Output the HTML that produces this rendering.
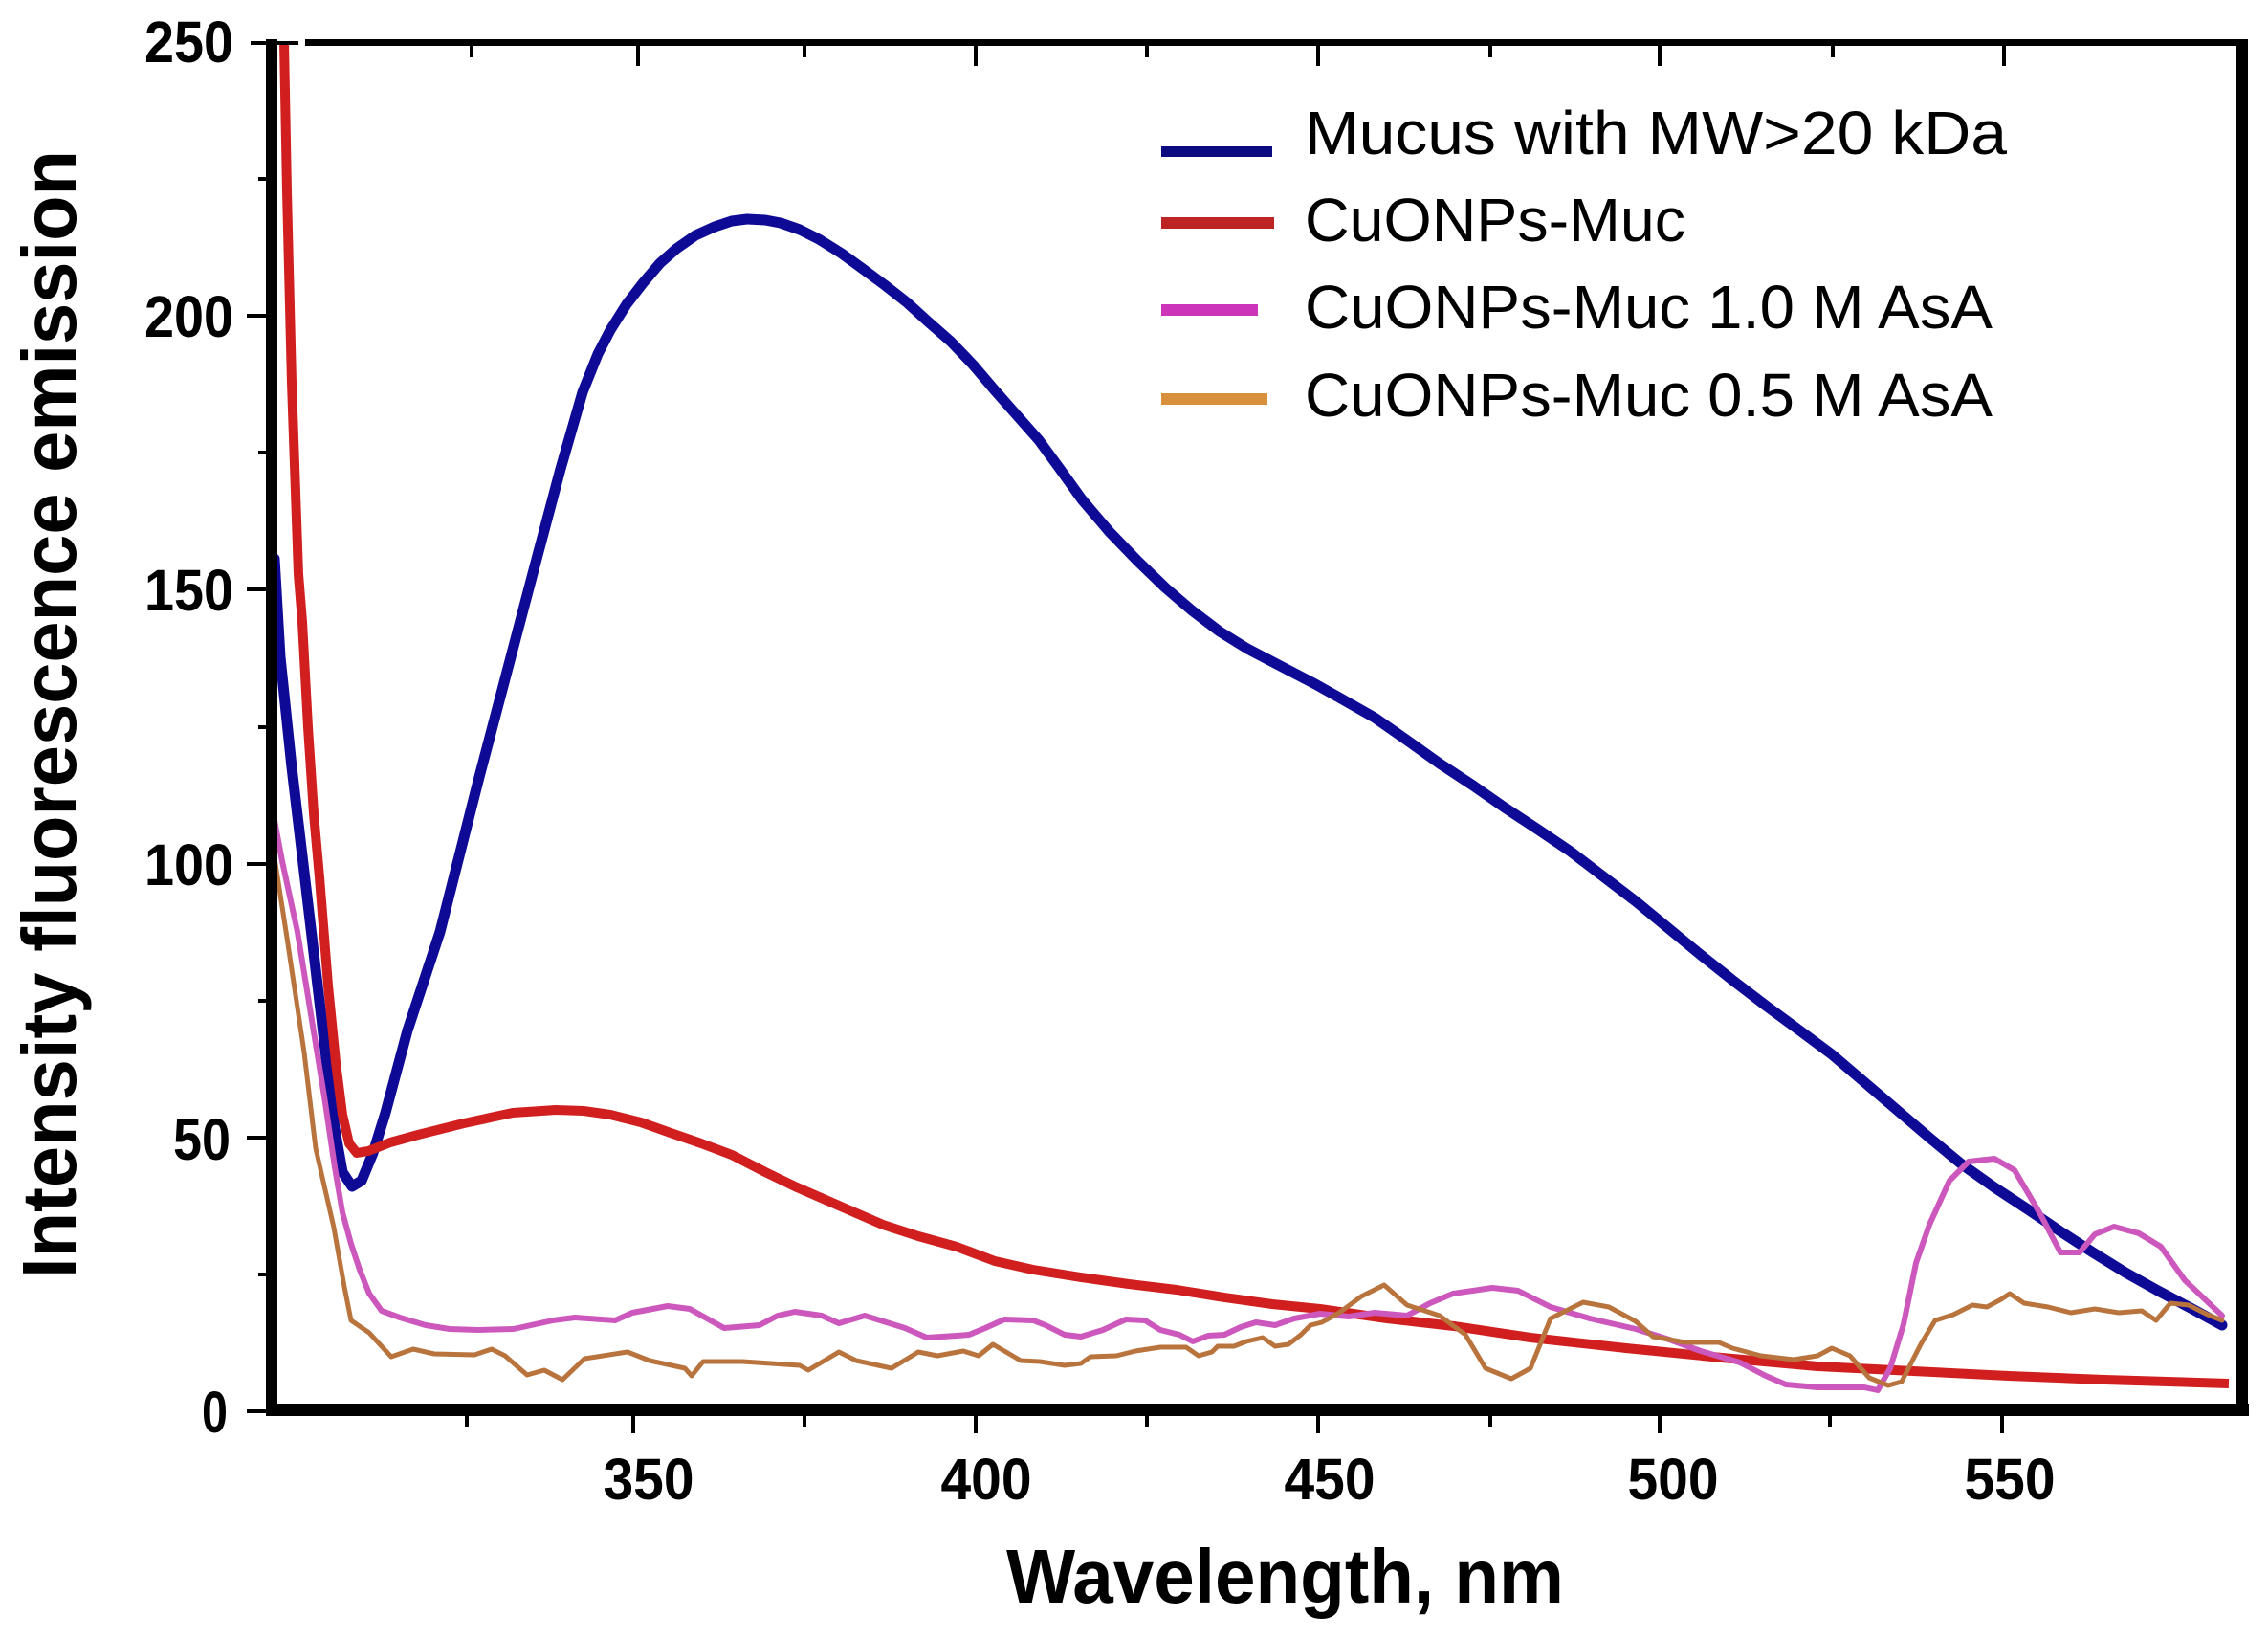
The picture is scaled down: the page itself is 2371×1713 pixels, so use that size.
<!DOCTYPE html>
<html>
<head>
<meta charset="utf-8">
<style>
html,body{margin:0;padding:0;background:#fff;}
svg{display:block;}
.tl{font-family:"Liberation Sans",Arial,sans-serif;font-weight:bold;font-size:61px;fill:#000;}
.lg{font-family:"Liberation Sans",Arial,sans-serif;font-size:64px;fill:#000;}
.ax{font-family:"Liberation Sans",Arial,sans-serif;font-weight:bold;font-size:80px;fill:#000;}
</style>
</head>
<body>
<svg width="2371" height="1713" viewBox="0 0 2371 1713" xmlns="http://www.w3.org/2000/svg">
<rect x="0" y="0" width="2371" height="1713" fill="#fff"/>

<!-- curves -->
<polyline fill="none" stroke="#0e0a96" stroke-width="11" stroke-linejoin="round" stroke-linecap="round"
points="287,584 293,687 305,802 322,945 339,1089 350,1180 358,1225 368,1240 378,1234 390,1205 403,1163 426,1077 460,974 500,816 530,702 560,588 586,490 609,410 625,370 638,345 655,318 672,296 690,275 707,260 727,246 747,237 765,231 781,229 800,230 816,233 836,240 856,250 880,265 902,281 925,298 948,316 970,336 994,357 1017,381 1040,408 1063,434 1086,460 1108,490 1131,522 1160,556 1189,586 1218,614 1246,638 1275,660 1304,678 1327,690 1350,702 1375,715 1400,729 1437,750 1470,773 1505,798 1540,821 1573,844 1608,867 1642,890 1676,916 1710,942 1744,970 1778,998 1812,1025 1846,1051 1880,1076 1915,1102 1949,1131 1983,1160 2017,1189 2051,1217 2085,1241 2120,1264 2154,1287 2188,1309 2222,1330 2256,1349 2290,1367 2323,1385"/>

<polyline fill="none" stroke="#d11f1f" stroke-width="10" stroke-linejoin="round" stroke-linecap="butt"
points="297,44 300,200 305,400 312,600 316,650 322,760 328,850 334,917 343,1030 351,1110 358,1165 365,1195 373,1205 385,1203 408,1194 437,1186 485,1174 536,1163 581,1160 610,1161 638,1165 670,1173 701,1184 733,1195 765,1207 800,1225 831,1240 870,1257 923,1280 960,1292 1000,1303 1040,1318 1080,1327 1130,1335 1180,1342 1230,1348 1280,1356 1330,1363 1380,1368 1450,1378 1520,1386 1600,1398 1700,1409 1800,1419 1900,1428 2000,1433 2100,1438 2200,1442 2330,1446"/>

<polyline fill="none" stroke="#cd58bd" stroke-width="6" stroke-linejoin="round" stroke-linecap="round"
points="283,836 295,900 311,974 325,1060 339,1146 350,1220 358,1267 367,1300 376,1327 386,1352 399,1370 418,1377 445,1385 470,1389 500,1390 537,1389 578,1380 601,1377 643,1380 661,1372 698,1365 721,1368 757,1388 794,1385 813,1375 831,1371 859,1375 877,1383 904,1375 946,1388 969,1398 1000,1396 1013,1395 1030,1388 1050,1379 1080,1380 1093,1385 1113,1395 1130,1397 1153,1390 1177,1379 1197,1380 1213,1390 1233,1395 1247,1402 1263,1396 1280,1395 1297,1387 1313,1382 1333,1385 1353,1378 1380,1373 1410,1376 1437,1372 1471,1375 1495,1362 1519,1352 1560,1346 1587,1349 1621,1366 1662,1378 1710,1389 1745,1400 1778,1412 1819,1424 1846,1438 1867,1447 1900,1450 1949,1450 1963,1453 1976,1430 1990,1384 2003,1320 2017,1280 2038,1234 2058,1214 2085,1211 2106,1223 2133,1269 2154,1309 2174,1309 2190,1290 2210,1282 2236,1289 2259,1303 2284,1338 2323,1375"/>

<polyline fill="none" stroke="#b9743e" stroke-width="5" stroke-linejoin="round" stroke-linecap="round"
points="283,871 300,980 318,1100 330,1200 349,1283 360,1345 367,1380 386,1393 409,1418 432,1410 454,1415 496,1416 514,1410 528,1417 551,1437 569,1432 588,1442 611,1420 656,1413 679,1422 716,1430 723,1438 735,1423 776,1423 836,1427 845,1432 877,1413 895,1422 932,1430 960,1413 980,1417 1007,1412 1023,1417 1038,1405 1050,1412 1067,1422 1087,1423 1113,1427 1130,1425 1140,1418 1167,1417 1187,1412 1213,1408 1240,1408 1253,1417 1267,1413 1273,1407 1290,1407 1303,1402 1320,1398 1333,1407 1347,1405 1360,1395 1370,1385 1382,1382 1400,1372 1423,1355 1447,1343 1471,1364 1505,1375 1532,1395 1553,1430 1580,1441 1600,1430 1621,1378 1655,1361 1682,1366 1710,1381 1728,1397 1762,1403 1797,1403 1811,1409 1841,1417 1875,1421 1900,1417 1915,1409 1934,1417 1954,1440 1974,1448 1988,1444 2008,1405 2023,1380 2042,1374 2062,1364 2077,1366 2092,1358 2101,1352 2116,1362 2141,1366 2165,1372 2190,1368 2215,1372 2239,1370 2254,1380 2269,1362 2288,1364 2308,1374 2323,1380"/>

<!-- axes frame -->
<rect x="278" y="41" width="12" height="1439" fill="#000"/>
<rect x="278" y="1467" width="2073" height="13" fill="#000"/>
<rect x="2338" y="41" width="12" height="1439" fill="#000"/>
<rect x="319" y="41" width="2031" height="7" fill="#000"/>
<rect x="262" y="43" width="50" height="4" fill="#000"/>

<!-- y ticks -->
<g fill="#000">
<rect x="258" y="328" width="22" height="4"/>
<rect x="258" y="614" width="22" height="4"/>
<rect x="258" y="901" width="22" height="4"/>
<rect x="258" y="1187" width="22" height="4"/>
<rect x="258" y="1473" width="22" height="4"/>
<rect x="270" y="185" width="10" height="4"/>
<rect x="270" y="471" width="10" height="4"/>
<rect x="270" y="758" width="10" height="4"/>
<rect x="270" y="1044" width="10" height="4"/>
<rect x="270" y="1330" width="10" height="4"/>
</g>

<!-- x ticks bottom -->
<g fill="#000">
<rect x="660" y="1478" width="4" height="20"/>
<rect x="1018" y="1478" width="4" height="20"/>
<rect x="1376" y="1478" width="4" height="20"/>
<rect x="1733" y="1478" width="4" height="20"/>
<rect x="2091" y="1478" width="4" height="20"/>
<rect x="486" y="1478" width="4" height="13"/>
<rect x="839" y="1478" width="4" height="13"/>
<rect x="1197" y="1478" width="4" height="13"/>
<rect x="1556" y="1478" width="4" height="13"/>
<rect x="1911" y="1478" width="4" height="13"/>
</g>
<!-- x ticks top -->
<g fill="#000">
<rect x="665" y="46" width="4" height="23"/>
<rect x="1018" y="46" width="4" height="23"/>
<rect x="1376" y="46" width="4" height="23"/>
<rect x="1733" y="46" width="4" height="23"/>
<rect x="2093" y="46" width="4" height="23"/>
<rect x="491" y="46" width="4" height="14"/>
<rect x="839" y="46" width="4" height="14"/>
<rect x="1197" y="46" width="4" height="14"/>
<rect x="1556" y="46" width="4" height="14"/>
<rect x="1914" y="46" width="4" height="14"/>
</g>

<!-- y tick labels -->
<text class="tl" x="244" y="65" text-anchor="end" textLength="93" lengthAdjust="spacingAndGlyphs">250</text>
<text class="tl" x="244" y="352" text-anchor="end" textLength="93" lengthAdjust="spacingAndGlyphs">200</text>
<text class="tl" x="244" y="638" text-anchor="end" textLength="93" lengthAdjust="spacingAndGlyphs">150</text>
<text class="tl" x="244" y="925" text-anchor="end" textLength="93" lengthAdjust="spacingAndGlyphs">100</text>
<text class="tl" x="241" y="1212" text-anchor="end" textLength="60" lengthAdjust="spacingAndGlyphs">50</text>
<text class="tl" x="238" y="1497" text-anchor="end" textLength="27" lengthAdjust="spacingAndGlyphs">0</text>

<!-- x tick labels -->
<text class="tl" x="678" y="1567" text-anchor="middle" textLength="95" lengthAdjust="spacingAndGlyphs">350</text>
<text class="tl" x="1031" y="1567" text-anchor="middle" textLength="95" lengthAdjust="spacingAndGlyphs">400</text>
<text class="tl" x="1390" y="1567" text-anchor="middle" textLength="95" lengthAdjust="spacingAndGlyphs">450</text>
<text class="tl" x="1749" y="1567" text-anchor="middle" textLength="95" lengthAdjust="spacingAndGlyphs">500</text>
<text class="tl" x="2101" y="1567" text-anchor="middle" textLength="95" lengthAdjust="spacingAndGlyphs">550</text>

<!-- axis titles -->
<text class="ax" x="1052" y="1675" textLength="583" lengthAdjust="spacingAndGlyphs">Wavelength, nm</text>
<text class="ax" transform="translate(79,1336) rotate(-90)" x="0" y="0" textLength="1179" lengthAdjust="spacingAndGlyphs">Intensity fluorescence emission</text>

<!-- legend -->
<rect x="1214" y="153" width="116" height="11" fill="#0c0c80"/>
<rect x="1214" y="227" width="118" height="12" fill="#bd2424"/>
<rect x="1214" y="318" width="101" height="12" fill="#cc35b8"/>
<rect x="1214" y="411" width="111" height="12" fill="#d8903c"/>
<text class="lg" x="1364" y="161" textLength="734" lengthAdjust="spacingAndGlyphs">Mucus with MW&gt;20 kDa</text>
<text class="lg" x="1364" y="252" textLength="398" lengthAdjust="spacingAndGlyphs">CuONPs-Muc</text>
<text class="lg" x="1364" y="343" textLength="719" lengthAdjust="spacingAndGlyphs">CuONPs-Muc 1.0 M AsA</text>
<text class="lg" x="1364" y="435" textLength="719" lengthAdjust="spacingAndGlyphs">CuONPs-Muc 0.5 M AsA</text>
</svg>
</body>
</html>
